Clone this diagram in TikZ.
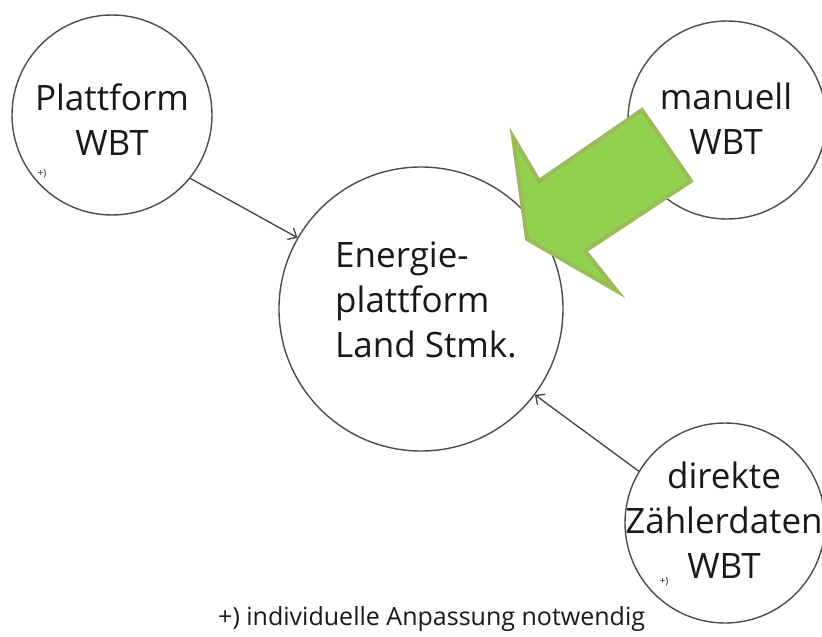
\documentclass[tikz,border=0pt]{standalone}
\usepackage{fontspec}
\setmainfont{Open Sans}
\usetikzlibrary{arrows.meta}
\definecolor{arrfill}{HTML}{92D050}
\definecolor{arrline}{HTML}{9BBB59}
\begin{document}
\begin{tikzpicture}[x=1pt,y=-1pt,
  circ/.style={circle,draw=black!70,line width=1.4pt,fill=white,inner sep=0pt,minimum size=#1},
  lbl/.style={font=\fontsize{35}{45}\selectfont,text=black!90,align=center,inner sep=0pt},
  note/.style={font=\fontsize{10}{12}\selectfont,text=black!85,inner sep=0pt},
  conn/.style={draw=black!75,line width=1.3pt,-{Straight Barb[length=7pt,width=13pt]}}]
\useasboundingbox (0,0) rectangle (822,637);
% circles
\node[circ=200pt] (P) at (112,115) {};
\node[circ=198pt] (M) at (727,120) {};
\node[circ=284pt] (E) at (421,309) {};
\node[circ=200pt] (D) at (725,523) {};
% connectors
\draw[conn] (P.-39) -- (E.150);
\draw[conn] (D.149) -- (E.-37);
% labels (base = baseline of last line)
\node[lbl,anchor=base] (Pt) at (112,155) {Plattform\\WBT};
\node[lbl,anchor=base] (Mt) at (726,154) {manuell\\WBT};
\node[lbl,anchor=base west,align=left] (Et) at (335,357) {Energie-\\plattform\\Land Stmk.};
\node[lbl,anchor=base] (Dt) at (724,578) {direkte\\Zählerdaten\\WBT};
\node[note] (Pn) at (42,174) {+)};
\node[note] (Dn) at (664,582) {+)};
\node[font=\fontsize{25}{30}\selectfont,text=black!90,anchor=base west,inner sep=0pt] (fn) at (218,625) {+) individuelle Anpassung notwendig};
% green block arrow
\draw[arrline,fill=arrfill,line width=4pt,line join=miter]
  (513,137) -- (539,181) -- (642,110) -- (691,181) -- (585,251) -- (617,291) -- (527,239) -- cycle;
\end{tikzpicture}
\end{document}
